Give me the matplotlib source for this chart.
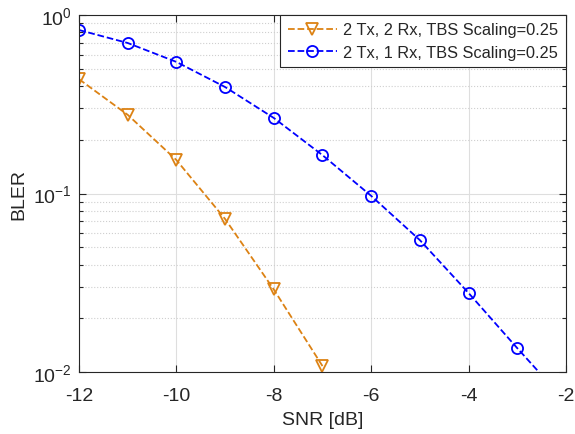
import numpy as np
import matplotlib
matplotlib.use("Agg")
import matplotlib.pyplot as plt
from matplotlib.ticker import LogLocator, NullFormatter

# Data
snr_2rx = [-12, -11, -10, -9, -8, -7]
bler_2rx = [0.437, 0.276, 0.154, 0.072, 0.029, 0.0108]

snr_1rx = [-12, -11, -10, -9, -8, -7, -6, -5, -4, -3, -2]
bler_1rx = [0.824, 0.697, 0.546, 0.395, 0.265, 0.164, 0.097, 0.0548, 0.0277, 0.0136, 0.0068]

labels = ["2 Tx, 2 Rx, TBS Scaling=0.25", "2 Tx, 1 Rx, TBS Scaling=0.25"]
x_ticks = [-12, -10, -8, -6, -4, -2]

# Style (MATLAB-ish)
plt.rcParams["font.family"] = ["Liberation Sans", "DejaVu Sans"]
plt.rcParams["mathtext.fontset"] = "custom"
plt.rcParams["mathtext.rm"] = "Liberation Sans"
plt.rcParams["mathtext.it"] = "Liberation Sans"
dark = "#262626"

fig = plt.figure(figsize=(5.75, 4.35), dpi=100)
ax = fig.add_axes([0.1374, 0.1425, 0.8469, 0.8207])

ax.semilogy(snr_2rx, bler_2rx, "--", color="#DC8214", marker="v", markersize=8,
            markerfacecolor="none", markeredgewidth=1.3, linewidth=1.3, label=labels[0])
ax.semilogy(snr_1rx, bler_1rx, "--", color="#0000FF", marker="o", markersize=8,
            markerfacecolor="none", markeredgewidth=1.3, linewidth=1.3, label=labels[1])

ax.set_xlim(-12, -2)
ax.set_ylim(1e-2, 1e0)
ax.set_xticks(x_ticks)
ax.set_xticklabels([str(t) for t in x_ticks])
ax.yaxis.set_major_locator(LogLocator(base=10, numticks=10))
ax.yaxis.set_minor_locator(LogLocator(base=10, subs=np.arange(2, 10), numticks=10))
ax.yaxis.set_minor_formatter(NullFormatter())

ax.grid(True, which="major", color="#dedede", linestyle="-", linewidth=0.8)
ax.grid(True, which="minor", axis="y", color="#cfcfcf", linestyle=":", linewidth=0.8)
ax.set_axisbelow(True)

ax.tick_params(which="both", direction="in", right=True, top=True, colors=dark,
               labelsize=14, width=0.8)
ax.tick_params(which="major", length=5)
ax.tick_params(which="minor", length=3)
ax.tick_params(axis="x", pad=11)
ax.tick_params(axis="y", pad=5)
for sp in ax.spines.values():
    sp.set_color(dark)
    sp.set_linewidth(0.8)

ax.set_xlabel("SNR [dB]", fontsize=14, color=dark, labelpad=5)
ax.set_ylabel("BLER", fontsize=14, color=dark, labelpad=4)

leg = ax.legend(loc="upper right", fontsize=11.8, handlelength=3, fancybox=False,
                framealpha=1, edgecolor=dark, borderaxespad=0, borderpad=0.45,
                labelspacing=0.45, handletextpad=0.4)
leg.get_frame().set_linewidth(0.8)
for t in leg.get_texts():
    t.set_color(dark)

fig.savefig("out.png", dpi=100)
